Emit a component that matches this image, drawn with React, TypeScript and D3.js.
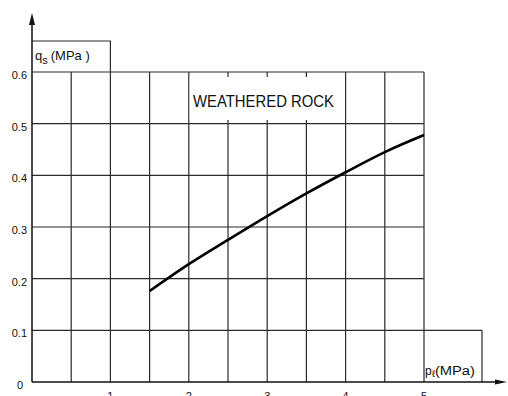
import React from "react";
import * as d3 from "d3";

// Unit shaft friction curve for weathered rock
const pressure = [1.5, 2, 2.5, 3, 3.5, 4, 4.5, 5];
const friction = [0.176, 0.228, 0.275, 0.321, 0.365, 0.406, 0.445, 0.478];

const xGrid = [0.5, 1, 1.5, 2, 2.5, 3, 3.5, 4, 4.5, 5];
const yGrid = [0.1, 0.2, 0.3, 0.4, 0.5, 0.6];
const xTickLabels = ["1", "2", "3", "4", "5"];
const xTickValues = [1, 2, 3, 4, 5];
const yTickValues = [0, 0.1, 0.2, 0.3, 0.4, 0.5, 0.6];
const yTickLabels = ["0", "0.1", "0.2", "0.3", "0.4", "0.5", "0.6"];

const W = 508;
const H = 396;
const FONT = "'Liberation Sans', Arial, sans-serif";

export default function App() {
  const x = d3.scaleLinear().domain([0, 5]).range([32, 424]);
  const y = d3.scaleLinear().domain([0, 0.6]).range([382, 72]);

  const line = d3
    .line<number>()
    .x((_, i) => x(pressure[i]))
    .y((d) => y(d))
    .curve(d3.curveMonotoneX);

  const gridColor = "#2a2a2a";
  const labelTop = 77;
  const labelBottom = 120;

  return (
    <svg
      width={W}
      height={H}
      style={{ position: "absolute", left: 0, top: 0, display: "block", background: "#fff" }}
    >
      {/* vertical grid lines */}
      {xGrid.map((v) => (
        <line
          key={"vx" + v}
          x1={x(v)}
          x2={x(v)}
          y1={y(0)}
          y2={v === 1 ? 41 : y(0.6)}
          stroke={gridColor}
          strokeWidth={1.2}
        />
      ))}
      {/* horizontal grid lines */}
      {yGrid.map((v) => (
        <line
          key={"hy" + v}
          x1={x(0)}
          x2={v === 0.1 ? 482 : x(5)}
          y1={y(v)}
          y2={y(v)}
          stroke={gridColor}
          strokeWidth={1.2}
        />
      ))}

      {/* y-axis caption box */}
      <line x1={x(0)} x2={111} y1={41} y2={41} stroke={gridColor} strokeWidth={1.2} />
      {/* x-axis caption box */}
      <line x1={482} x2={482} y1={y(0.1)} y2={y(0)} stroke={gridColor} strokeWidth={1.2} />

      {/* curve label panel */}
      <rect
        x={x(2) + 1}
        y={labelTop}
        width={x(4) - x(2) - 2}
        height={labelBottom - labelTop}
        fill="#fff"
      />
      <text
        x={(193 + 334) / 2}
        y={107}
        textAnchor="middle"
        fontFamily={FONT}
        fontSize={17}
        textLength={141}
        lengthAdjust="spacingAndGlyphs"
        fill="#111"
      >
        WEATHERED ROCK
      </text>

      {/* axes */}
      <line x1={x(0)} x2={x(0)} y1={y(0)} y2={20} stroke="#111" strokeWidth={1.5} />
      <path d={`M${x(0)},13 L${x(0) - 3},25 L${x(0) + 3},25 Z`} fill="#111" />
      <line x1={x(0)} x2={500} y1={y(0)} y2={y(0)} stroke="#111" strokeWidth={1.5} />
      <path d={`M507,${y(0)} L495,${y(0) - 2.5} L495,${y(0) + 2.5} Z`} fill="#111" />

      {/* curve */}
      <path
        d={line(friction) || ""}
        fill="none"
        stroke="#000"
        strokeWidth={2.6}
        strokeLinejoin="round"
      />

      {/* tick labels */}
      {yTickValues.map((v, i) => (
        <text
          key={"yl" + v}
          x={v === 0 ? 23 : 27}
          y={y(v) + 7}
          textAnchor="end"
          fontFamily={FONT}
          fontSize={11}
          fill="#111"
        >
          {yTickLabels[i]}
        </text>
      ))}
      {xTickValues.map((v, i) => (
        <text
          key={"xl" + v}
          x={x(v)}
          y={400}
          textAnchor="middle"
          fontFamily={FONT}
          fontSize={11}
          fill="#111"
        >
          {xTickLabels[i]}
        </text>
      ))}

      {/* axis captions */}
      <text x={35} y={60} fontFamily={FONT} fontSize={13} fill="#111">
        q
        <tspan dy={4} fontSize={11}>s</tspan>
        <tspan dy={-4} dx={3}>(MPa )</tspan>
      </text>
      <text x={425} y={375} fontFamily={FONT} fontSize={12} fill="#111">
        p
        <tspan dy={2} fontSize={10}>ℓ</tspan>
        <tspan dy={-2} textLength={40} lengthAdjust="spacingAndGlyphs">(MPa)</tspan>
      </text>
    </svg>
  );
}
